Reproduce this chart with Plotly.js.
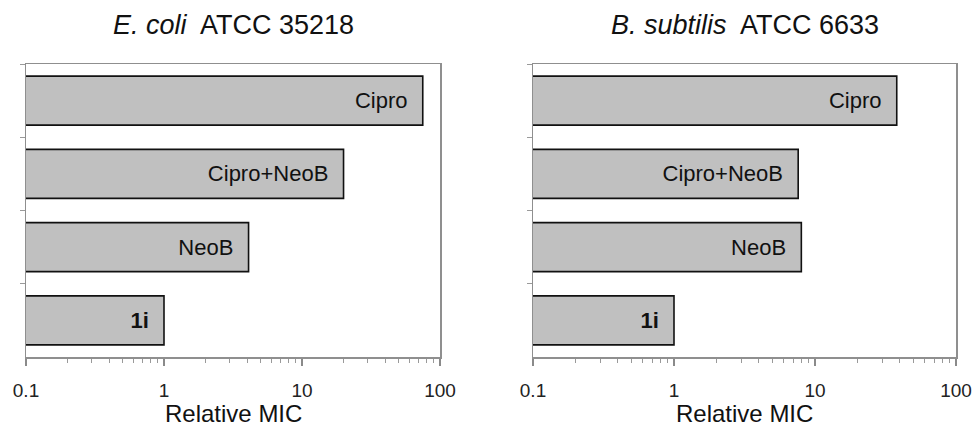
<!DOCTYPE html>
<html>
<head>
<meta charset="utf-8">
<script src="https://cdn.plot.ly/plotly-3.0.1.min.js"></script>
<style>html,body{margin:0;padding:0;background:#fff;}#chart{width:976px;height:429px;}</style>
</head>
<body>
<div id="chart"></div>
<script>
// ---- data ----
const categories = ['Cipro', 'Cipro+NeoB', 'NeoB', '1i'];
const ecoliMIC = [75, 20, 4.1, 1];
const subtilisMIC = [38, 7.6, 8.0, 1];
const panelTitles = ['<i>E. coli</i>  ATCC 35218', '<i>B. subtilis</i>  ATCC 6633'];
const xTickVals = [0.1, 1, 10, 100];
const xTickText = ['0.1', '1', '10', '100'];
const xAxisTitle = 'Relative MIC';

const FONT = '"Liberation Sans", Arial, Helvetica, sans-serif';
const pad = '\u00a0\u00a0';
const barText = categories.map(c => (c === '1i' ? '<b>' + c + '</b>' : c) + pad);

function barTrace(vals, xa, ya) {
  return {
    type: 'bar', orientation: 'h',
    x: vals, y: categories,
    xaxis: xa, yaxis: ya,
    text: barText,
    textposition: 'inside', insidetextanchor: 'end', textangle: 0,
    textfont: {family: FONT, size: 22, color: '#111'},
    constraintext: 'none',
    marker: {color: '#c0c0c0', line: {color: '#111', width: 1.6}},
    hoverinfo: 'x+y', showlegend: false
  };
}

const minorVals = [];
for (let d = -1; d < 2; d++) for (let k = 2; k <= 9; k++) minorVals.push(k * Math.pow(10, d));

function xAxis(domain, anchor) {
  return {
    domain: domain, anchor: anchor, type: 'log',
    range: [-1, 2],
    tickmode: 'array', tickvals: xTickVals, ticktext: xTickText,
    ticks: 'outside', ticklen: 7, tickwidth: 1.2, tickcolor: '#8a8a8a',
    minor: {tickmode: 'array', tickvals: minorVals, ticks: 'outside', ticklen: 4, tickwidth: 1, tickcolor: '#9a9a9a', showgrid: false},
    ticklabelstandoff: 9,
    tickfont: {family: FONT, size: 19, color: '#222'},
    showgrid: false, zeroline: false,
    showline: true, mirror: true, linecolor: '#8f8f8f', linewidth: 1.5
  };
}
function yAxis(anchor) {
  return {
    domain: [0, 1], anchor: anchor, type: 'category',
    categoryorder: 'array', categoryarray: categories,
    autorange: 'reversed',
    showticklabels: false,
    ticks: 'outside', tickson: 'boundaries', ticklen: 5, tickcolor: '#9a9a9a', tickwidth: 1,
    showgrid: false, zeroline: false,
    showline: true, mirror: true, linecolor: '#8f8f8f', linewidth: 1.5
  };
}

const dom1 = [26 / 976, 440 / 976];
const dom2 = [533 / 976, 956 / 976];

const titleFont = {family: FONT, size: 27, color: '#111'};
const axTitleFont = {family: FONT, size: 24, color: '#111'};

const layout = {
  width: 976, height: 429,
  margin: {l: 0, r: 0, t: 64, b: 72},
  paper_bgcolor: '#fff', plot_bgcolor: '#fff',
  bargap: 0.33,
  font: {family: FONT, color: '#111'},
  xaxis: xAxis(dom1, 'y'),
  yaxis: yAxis('x'),
  xaxis2: xAxis(dom2, 'y2'),
  yaxis2: yAxis('x2'),
  annotations: [
    {text: panelTitles[0], xref: 'x domain', yref: 'paper', x: 0.5, y: 1, xanchor: 'center', yanchor: 'bottom', yshift: 22, showarrow: false, font: titleFont},
    {text: panelTitles[1], xref: 'x2 domain', yref: 'paper', x: 0.5, y: 1, xanchor: 'center', yanchor: 'bottom', yshift: 22, showarrow: false, font: titleFont},
    {text: xAxisTitle, xref: 'x domain', yref: 'paper', x: 0.5, y: 0, xanchor: 'center', yanchor: 'bottom', yshift: -71, borderpad: 0, showarrow: false, font: axTitleFont},
    {text: xAxisTitle, xref: 'x2 domain', yref: 'paper', x: 0.5, y: 0, xanchor: 'center', yanchor: 'bottom', yshift: -71, borderpad: 0, showarrow: false, font: axTitleFont}
  ]
};

Plotly.newPlot('chart', [barTrace(ecoliMIC, 'x', 'y'), barTrace(subtilisMIC, 'x2', 'y2')], layout, {staticPlot: true, displayModeBar: false});
</script>
</body>
</html>
